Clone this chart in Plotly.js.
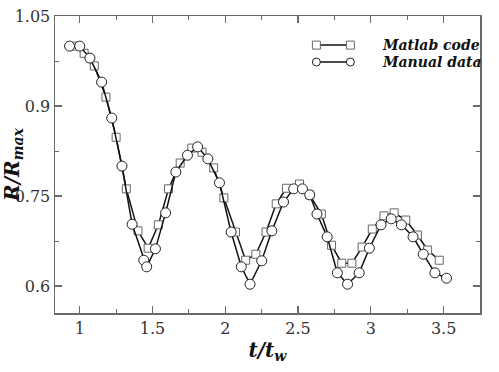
<!DOCTYPE html>
<html>
<head>
<meta charset="utf-8">
<script src="https://cdn.plot.ly/plotly-3.0.1.min.js"></script>
<style>
  html, body { margin: 0; padding: 0; background: #fff; }
  #chart { width: 499px; height: 372px; }
</style>
</head>
<body>
<div id="chart"></div>
<script>
// values
const matlabT = [0.97, 1.03, 1.10, 1.18, 1.25, 1.32, 1.40, 1.47, 1.54, 1.61, 1.69, 1.77,
  1.84, 1.92, 1.99, 2.07, 2.14, 2.21, 2.28, 2.35, 2.42, 2.51, 2.58, 2.66, 2.73, 2.80,
  2.87, 2.94, 3.01, 3.09, 3.16, 3.24, 3.32, 3.39, 3.47];
const matlabR = [1.0, 0.988, 0.967, 0.915, 0.848, 0.762, 0.692, 0.663, 0.702, 0.762, 0.805, 0.83,
  0.823, 0.797, 0.747, 0.69, 0.643, 0.653, 0.69, 0.737, 0.763, 0.77, 0.752, 0.72, 0.668, 0.638,
  0.638, 0.665, 0.695, 0.717, 0.722, 0.71, 0.685, 0.66, 0.643];

const manualT = [0.93, 1.00, 1.07, 1.15, 1.22, 1.29, 1.36, 1.44, 1.46, 1.52, 1.59, 1.66,
  1.74, 1.81, 1.88, 1.96, 2.04, 2.11, 2.17, 2.25, 2.32, 2.40, 2.47, 2.53, 2.58, 2.63,
  2.70, 2.77, 2.84, 2.92, 2.99, 3.07, 3.14, 3.21, 3.29, 3.36, 3.44, 3.52];
const manualR = [1.0, 1.0, 0.98, 0.94, 0.88, 0.80, 0.703, 0.643, 0.632, 0.662, 0.722, 0.79,
  0.818, 0.832, 0.812, 0.772, 0.69, 0.632, 0.603, 0.642, 0.692, 0.74, 0.762, 0.762, 0.752, 0.72,
  0.682, 0.622, 0.603, 0.622, 0.663, 0.702, 0.712, 0.702, 0.682, 0.653, 0.622, 0.613];

const seriesNames = ['Matlab code', 'Manual data'];
const yTickVals = [0.6, 0.75, 0.9, 1.05];
const yTickText = ['0.6', '0.75', '0.9', '1.05'];

const FONT = 'DejaVu Serif';
const AXIS_GREY = '#6a6a6a';

const SQUARE_MARKER = {symbol: 'square', size: 8, color: '#fff', line: {color: '#666', width: 1}};
const CIRCLE_MARKER = {symbol: 'circle', size: 10, color: '#fff', line: {color: '#222', width: 1}};

var traceMatlab = {
  x: matlabT, y: matlabR, name: seriesNames[0],
  mode: 'lines+markers', type: 'scatter',
  line: {color: '#111', width: 1.5},
  marker: SQUARE_MARKER, showlegend: false
};
var traceManual = {
  x: manualT, y: manualR, name: seriesNames[1],
  mode: 'lines+markers', type: 'scatter',
  line: {color: '#111', width: 1.5},
  marker: CIRCLE_MARKER, showlegend: false
};

function axisBase() {
  return {
    showgrid: false, zeroline: false,
    showline: true, linecolor: AXIS_GREY, linewidth: 1.5,
    mirror: 'allticks', ticks: 'inside', ticklen: 7, tickwidth: 1.2, tickcolor: AXIS_GREY,
    tickfont: {family: FONT, size: 16, color: '#333'},
    minor: {ticks: 'inside', ticklen: 4, tickwidth: 1, tickcolor: AXIS_GREY}
  };
}

var xaxis = Object.assign(axisBase(), {
  range: [0.83, 3.75], tick0: 1, dtick: 0.5,
  title: {text: '<b><i>t/t<sub>w</sub></i></b>', font: {family: FONT, size: 20, color: '#111'}, standoff: 4}
});
xaxis.minor.dtick = 0.25;

var yaxis = Object.assign(axisBase(), {
  range: [0.555, 1.0502], tickmode: 'array', tickvals: yTickVals, ticktext: yTickText,
  title: {text: '<b><i>R/R<sub>max</sub></i></b>', font: {family: FONT, size: 20, color: '#111'}, standoff: 2}
});
yaxis.minor.tickvals = [0.675, 0.825, 0.975];
yaxis.minor.tickmode = 'array';

// hand-drawn legend: short line with a marker at each end
function legendRow(y, symbol, lineColor) {
  let shapes = [{type: 'line', xref: 'paper', yref: 'paper', x0: 0.615, x1: 0.695, y0: y, y1: y,
    line: {color: '#111', width: 1.5}}];
  [0.615, 0.695].forEach(function (cx) {
    shapes.push({type: symbol, xref: 'paper', yref: 'paper', xsizemode: 'pixel', ysizemode: 'pixel',
      xanchor: cx, yanchor: y, x0: -4, x1: 4, y0: -4, y1: 4,
      fillcolor: '#fff', line: {color: lineColor, width: 1}});
  });
  return shapes;
}

var layout = {
  width: 499, height: 372,
  margin: {l: 55, r: 19, t: 16, b: 59},
  paper_bgcolor: '#fff', plot_bgcolor: '#fff',
  font: {family: FONT},
  xaxis: xaxis, yaxis: yaxis,
  shapes: legendRow(0.902, 'rect', '#666').concat(legendRow(0.845, 'circle', '#222')),
  annotations: [
    {text: '<b><i>' + seriesNames[0] + '</i></b>', xref: 'paper', yref: 'paper', x: 0.765, y: 0.902,
      xanchor: 'left', yanchor: 'middle', showarrow: false, font: {family: FONT, size: 14, color: '#111'}},
    {text: '<b><i>' + seriesNames[1] + '</i></b>', xref: 'paper', yref: 'paper', x: 0.765, y: 0.845,
      xanchor: 'left', yanchor: 'middle', showarrow: false, font: {family: FONT, size: 14, color: '#111'}}
  ]
};

Plotly.newPlot('chart', [traceMatlab, traceManual], layout, {staticPlot: true});
</script>
</body>
</html>
